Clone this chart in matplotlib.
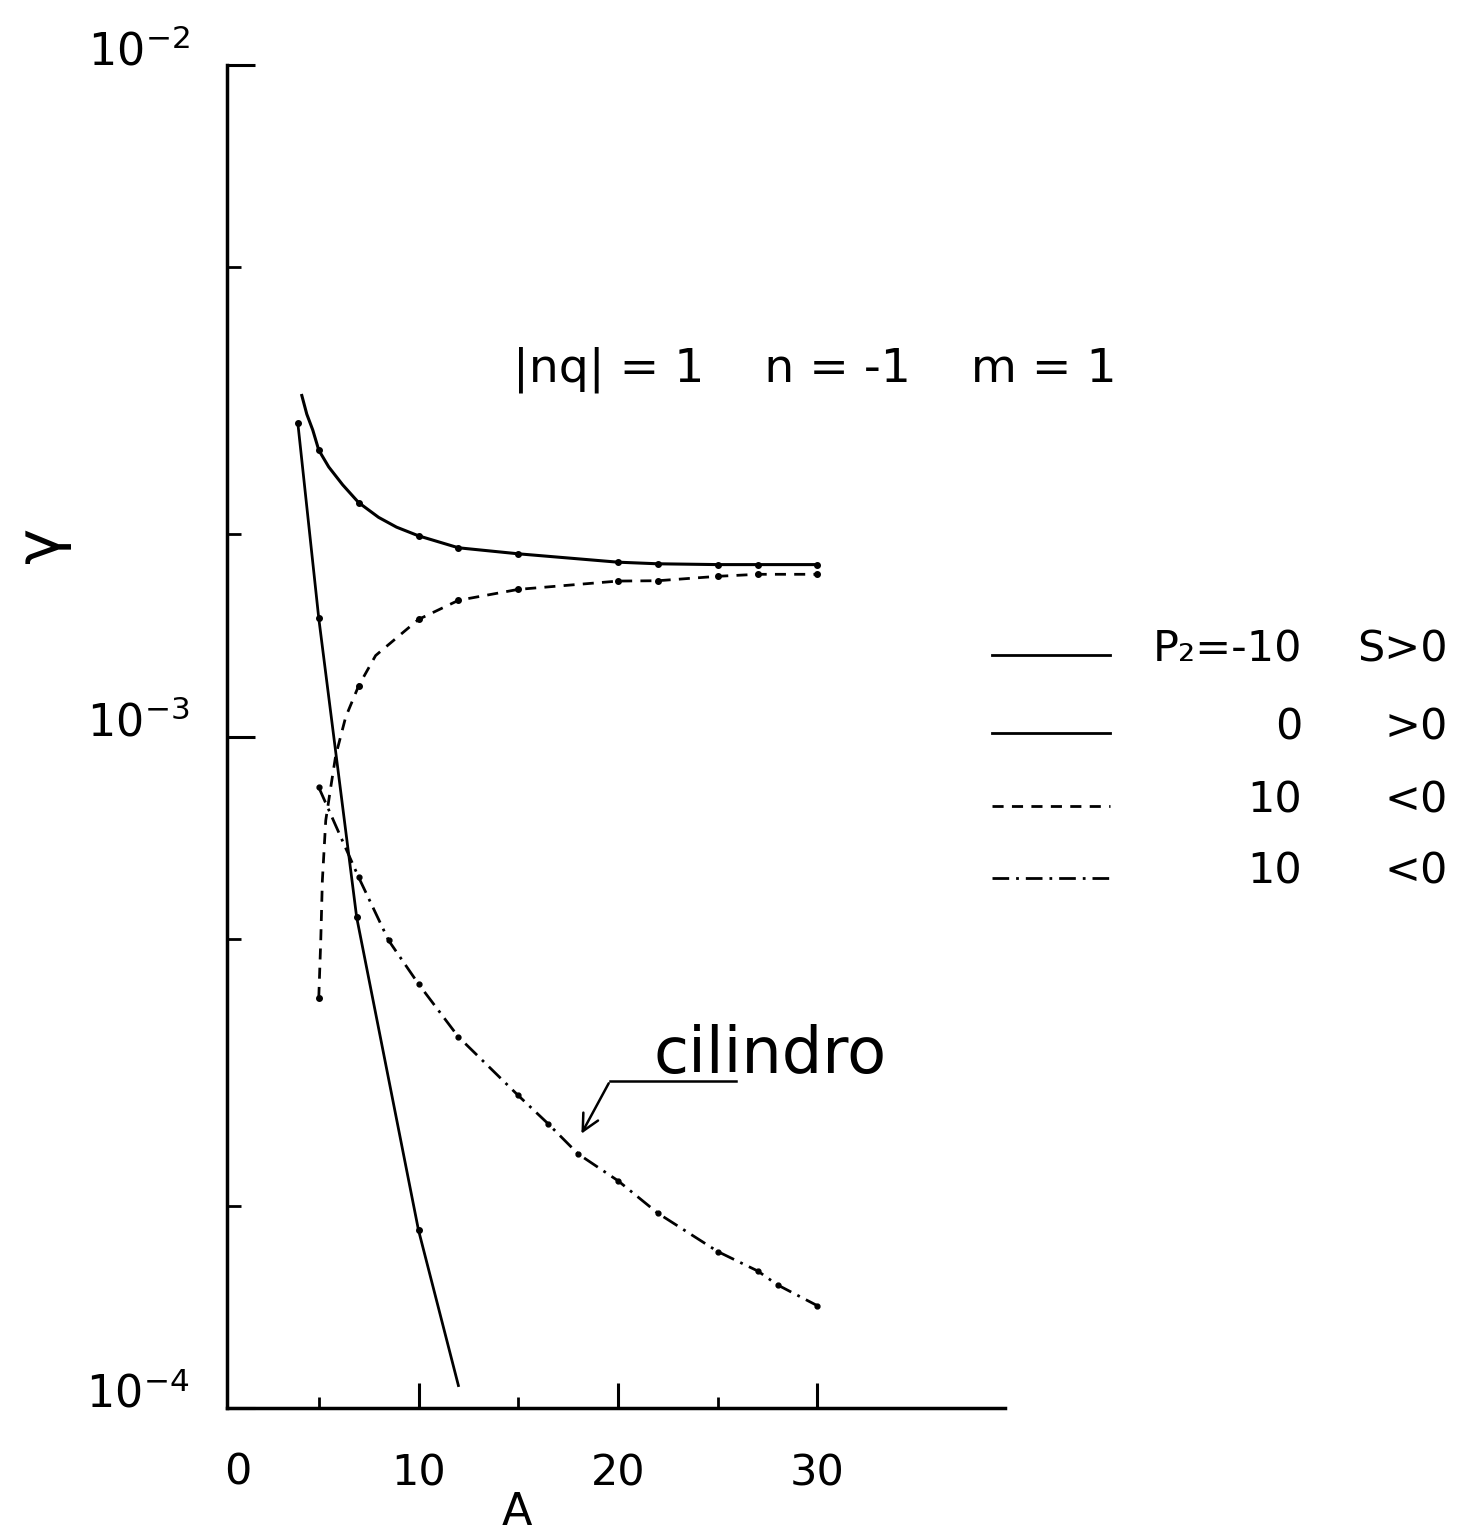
import matplotlib
matplotlib.use("Agg")
import matplotlib.pyplot as plt
from matplotlib.ticker import FixedLocator, NullFormatter
from matplotlib.lines import Line2D

plt.rcParams['font.family'] = ['DejaVu Sans']
plt.rcParams['mathtext.fontset'] = 'dejavusans'

# P2 = -10, S>0 (upper solid)
a_p2m10 = [4.15, 4.4, 4.7, 5.0, 5.5, 6.2, 7.0, 8.0, 8.9, 10, 12, 15, 20, 22, 25, 27, 30]
g_p2m10 = [3.22e-3, 3.02e-3, 2.86e-3, 2.67e-3, 2.52e-3, 2.37e-3, 2.23e-3, 2.12e-3, 2.05e-3,
           1.99e-3, 1.91e-3, 1.871e-3, 1.818e-3, 1.808e-3, 1.803e-3, 1.803e-3, 1.803e-3]
dots_p2m10 = [3, 6, 9, 10, 11, 12, 13, 14, 15, 16]

# P2 = 0, S>0 (steep solid)
a_p20 = [3.95, 5.0, 6.9, 10, 12]
g_p20 = [2.93e-3, 1.50e-3, 5.38e-4, 1.84e-4, 1.08e-4]
dots_p20 = [0, 1, 2, 3]

# P2 = 10, S<0 (dashed)
a_p210 = [5.0, 5.1, 5.18, 5.35, 5.6, 5.85, 6.35, 7.0, 7.85, 10, 12, 15, 20, 22, 25, 27, 30]
g_p210 = [4.08e-4, 4.97e-4, 6.1e-4, 7.5e-4, 8.4e-4, 9.37e-4, 1.069e-3, 1.19e-3, 1.32e-3,
          1.494e-3, 1.595e-3, 1.656e-3, 1.704e-3, 1.706e-3, 1.732e-3, 1.744e-3, 1.744e-3]
dots_p210 = [0, 7, 9, 10, 11, 12, 13, 14, 15, 16]

# P2 = 10, S<0, cilindro (dash-dot)
a_cil = [5, 7, 8.5, 10, 12, 15, 16.5, 18, 20, 22, 25, 27, 28, 30]
g_cil = [8.4e-4, 6.17e-4, 4.97e-4, 4.28e-4, 3.57e-4, 2.92e-4, 2.65e-4, 2.39e-4,
         2.18e-4, 1.95e-4, 1.71e-4, 1.60e-4, 1.525e-4, 1.42e-4]

xticks_major = [10, 20, 30]
xticks_minor = [5, 15, 25]
yticks_major = [1e-4, 1e-3, 1e-2]
ytick_labels = ['$10^{-4}$', '$10^{-3}$', '$10^{-2}$']
yticks_minor = [2e-4, 5e-4, 2e-3, 5e-3]

leg_values = ['P₂=-10', '0', '10', '10']
leg_signs = ['S>0', '>0', '<0', '<0']
leg_styles = ['-', '-', (0, (4, 3)), (0, (6, 2.5, 1, 2.5))]

fig = plt.figure(figsize=(14.6, 15.38), dpi=100)
ax = fig.add_axes([227 / 1460, 1 - 1408 / 1538, 778 / 1460, 1343 / 1538])

lw = 2.2
ax.plot(a_p2m10, g_p2m10, color='black', lw=lw, marker='o', ms=4, markevery=dots_p2m10)
ax.plot(a_p20, g_p20, color='black', lw=lw * 0.9, marker='o', ms=4, markevery=dots_p20)
ax.plot(a_p210, g_p210, color='black', lw=lw * 0.9, linestyle=(0, (4, 3)),
        marker='o', ms=4, markevery=dots_p210)
ax.plot(a_cil, g_cil, color='black', lw=lw * 0.9, linestyle=(0, (6, 2.5, 1, 2.5)),
        marker='o', ms=3.5)

ax.set_yscale('log')
ax.set_xlim(0.4, 39.4)
ax.set_ylim(1e-4, 1e-2)

for s in ['top', 'right']:
    ax.spines[s].set_visible(False)
for s in ['left', 'bottom']:
    ax.spines[s].set_linewidth(2.5)

ax.set_xticks(xticks_major, [str(v) for v in xticks_major])
ax.xaxis.set_minor_locator(FixedLocator(xticks_minor))
ax.set_yticks(yticks_major, ytick_labels)
ax.yaxis.set_minor_locator(FixedLocator(yticks_minor))
ax.yaxis.set_minor_formatter(NullFormatter())

ax.tick_params(axis='x', which='major', direction='in', length=18, width=2.2,
               labelsize=31, pad=32)
ax.tick_params(axis='x', which='minor', direction='in', length=8, width=2)
ax.tick_params(axis='y', which='major', direction='in', length=20, width=2.2,
               labelsize=32, pad=27)
ax.tick_params(axis='y', which='minor', direction='in', length=10, width=2)
for lbl in ax.get_yticklabels():
    lbl.set_verticalalignment('baseline')

ax.text(0.95, -0.048, '0', transform=ax.get_xaxis_transform(), fontsize=31,
        ha='center', va='center')

ax.set_xlabel('A', fontsize=32)
ax.xaxis.set_label_coords(0.373, -0.062)
ax.set_ylabel('γ', fontsize=44, rotation=90)
ax.yaxis.set_label_coords(-0.2, 0.643)

fig.text(815 / 1460, 1 - 370 / 1538, '|nq| = 1    n = -1    m = 1', fontsize=34,
         ha='center', va='center')

# cilindro label with arrow
ax.text(27.6, 3.35e-4, 'cilindro', fontsize=46, ha='center', va='center')
ax.plot([19.6, 25.9], [3.07e-4, 3.07e-4], color='black', lw=1.8)
ax.annotate('', xy=(18.1, 2.54e-4), xytext=(19.6, 3.07e-4),
            arrowprops=dict(arrowstyle='->', color='black', lw=1.8, mutation_scale=30))

# hand-drawn style legend
row_y = [655, 733, 806, 878]
for yy, val, sign, ls in zip(row_y, leg_values, leg_signs, leg_styles):
    fig.add_artist(Line2D([992 / 1460, 1110 / 1460], [1 - yy / 1538, 1 - yy / 1538],
                          color='black', lw=2, linestyle=ls))
    fig.text(1302 / 1460, 1 - (yy - 6) / 1538, val, fontsize=31, ha='right', va='center')
    fig.text(1448 / 1460, 1 - (yy - 6) / 1538, sign, fontsize=31, ha='right', va='center')

fig.savefig('out.png', dpi=100, facecolor='white')
